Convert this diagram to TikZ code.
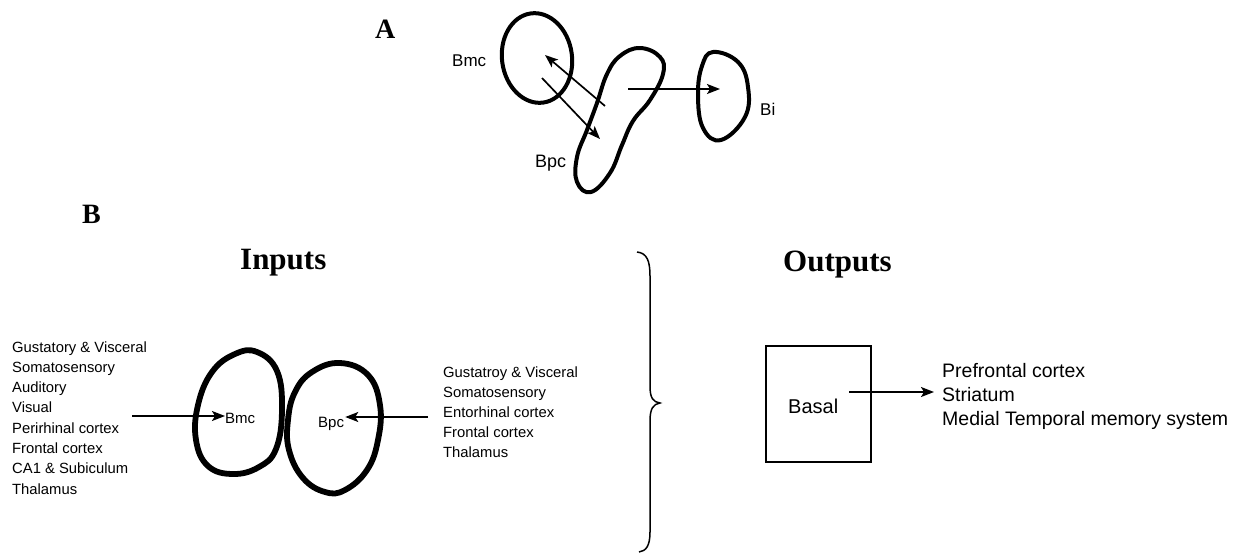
\documentclass[tikz,border=0pt]{standalone}
\usepackage{fontspec}
\setmainfont{Liberation Serif}
\setsansfont{Liberation Sans}
\usetikzlibrary{arrows.meta}
\tikzset{
  panel/.style={font=\fontsize{28}{30}\selectfont\bfseries, anchor=base west, inner sep=0},
  head/.style={font=\fontsize{31}{34}\selectfont\bfseries, anchor=base west, inner sep=0},
  lab/.style={font=\sffamily\fontsize{17}{20}\selectfont, anchor=base west, inner sep=0},
  small/.style={font=\sffamily\fontsize{15}{18}\selectfont, anchor=base west, inner sep=0},
  item/.style={font=\sffamily\fontsize{14.8}{18}\selectfont, anchor=base west, inner sep=0},
  outitem/.style={font=\sffamily\fontsize{19.5}{22}\selectfont, anchor=base west, inner sep=0},
  blob/.style={line width=4pt, line join=round},
  bigblob/.style={line width=5.8pt, line join=round},
  link/.style={line width=1.7pt, -{Stealth[length=13pt,width=10pt,inset=3pt]}},
}
\begin{document}
\begin{tikzpicture}[x=1pt, y=-1pt]
\useasboundingbox (0,0) rectangle (1255,552);

% ---------- Panel A ----------
\node[panel] (A) at (375,38) {A};

% Bmc nucleus
\draw[blob, rotate around={8:(537,58)}] (537,58) ellipse [x radius=35, y radius=45];
% Bpc nucleus (elongated)
\draw[blob] plot[smooth cycle, tension=0.7] coordinates {
  (640,48) (660,57) (663,74) (650,100) (633,121) (622,145) (610,173)
  (591,192) (577,182) (577,157) (587,130) (597,103) (607,74) (620,56)};
% Bi nucleus
\draw[blob] plot[smooth cycle, tension=0.7] coordinates {
  (713,52) (738,62) (748,87) (745,117) (721,140) (703,128) (698,95) (702,66)};

\node[lab] (aBmc) at (452,66) {Bmc};
\node[font=\sffamily\fontsize{18}{20}\selectfont, anchor=base west, inner sep=0] (aBpc) at (535,167) {Bpc};
\node[lab] (aBi) at (760,115) {Bi};

\coordinate (pcUp) at (605,106);
\coordinate (mcIn) at (545,55);
\coordinate (mcOut) at (542,78);
\coordinate (pcIn) at (600,139);
\coordinate (pcOut) at (628,89);
\coordinate (biIn) at (720,89);
\draw[link] (pcUp) -- (mcIn);
\draw[link] (mcOut) -- (pcIn);
\draw[link] (pcOut) -- (biIn);

% ---------- Panel B ----------
\node[panel] (B) at (82,223) {B};
\node[head] (inputs) at (240,269) {Inputs};
\node[head] (outputs) at (783,271) {Outputs};

% input lists
\foreach \t [count=\i] in {Gustatory \& Visceral, Somatosensory, Auditory, Visual,
    Perirhinal cortex, Frontal cortex, CA1 \& Subiculum, Thalamus}
  \node[item] (inL\i) at (12,{352+20.3*(\i-1)}) {\t};
\foreach \t [count=\i] in {Gustatroy \& Visceral, Somatosensory, Entorhinal cortex,
    Frontal cortex, Thalamus}
  \node[item] (inR\i) at (443,{377+20*(\i-1)}) {\t};

% Bmc and Bpc nuclei
\draw[bigblob] plot[smooth cycle, tension=0.7] coordinates {
  (257,352) (277,371) (282,410) (276,449) (259,467) (233,474) (208,466)
  (196,440) (198,405) (212,372) (235,354)};
\draw[bigblob] plot[smooth cycle, tension=0.7] coordinates {
  (340,363) (368,375) (380,405) (378,440) (367,470) (345,490) (325,492)
  (303,478) (289,450) (288,420) (295,392) (312,372)};
\node[small] (bBmc) at (225,423) {Bmc};
\node[small] (bBpc) at (318,427) {Bpc};

\coordinate (fromL) at (132,416);
\coordinate (fromR) at (428,417);
\draw[link] (fromL) -- (fromL -| bBmc.west);
\draw[link] (fromR) -- ([xshift=1pt]fromR -| bBpc.east);

% brace separating inputs from outputs
\draw[line width=1.5pt] (637,252) .. controls (647,253) and (650,261) .. (650,276)
  -- (650,386) .. controls (650,398) and (653,402) .. (660,403)
  .. controls (653,404) and (650,409) .. (650,421)
  -- (650,532) .. controls (650,546) and (646,551) .. (639,552);

% outputs
\node[draw, line width=1.4pt, minimum width=105, minimum height=116, inner sep=0] (box) at (818.5,404) {};
\node[font=\sffamily\fontsize{20}{22}\selectfont, anchor=base west, inner sep=0] (basal) at (788,413) {Basal};
\foreach \t [count=\i] in {Prefrontal cortex, Striatum, Medial Temporal memory system}
  \node[outitem] (out\i) at (942,{377+24*(\i-1)}) {\t};
\coordinate (fromBasal) at (849,392);
\draw[link] (fromBasal) -- ([xshift=-8pt]fromBasal -| out2.west);
\end{tikzpicture}
\end{document}
